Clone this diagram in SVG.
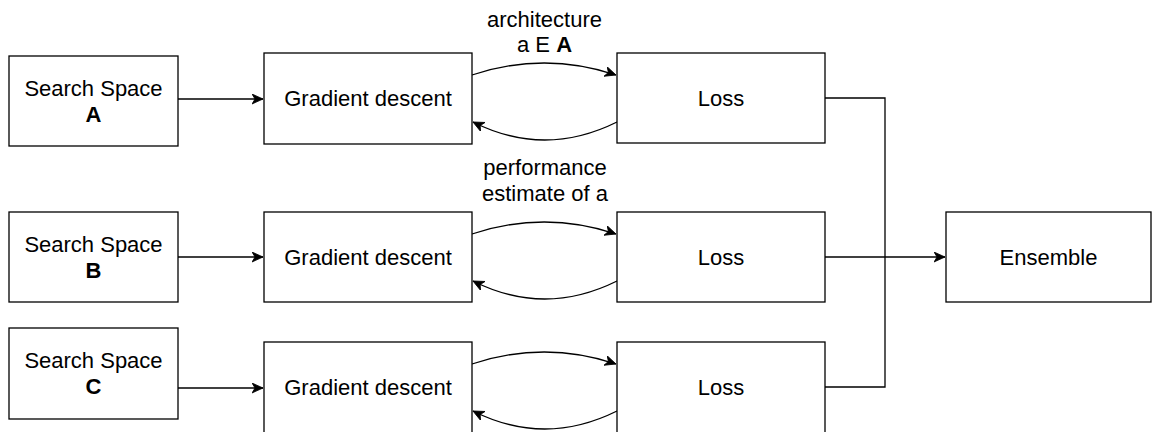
<svg xmlns="http://www.w3.org/2000/svg" width="1152" height="432" viewBox="0 0 1152 432">
<style>
.box{fill:#fff;stroke:#000;stroke-width:1.3}
.t{font-family:"Liberation Sans",Arial,sans-serif;font-size:22px;fill:#000;text-anchor:middle}
.b{font-weight:bold}
.edge{fill:none;stroke:#000;stroke-width:1.3}
</style>
<defs>
<marker id="arr" markerUnits="userSpaceOnUse" markerWidth="14" markerHeight="12" refX="11" refY="5" orient="auto" viewBox="0 0 14 12">
<path d="M0,0 L11,5 L0,10 L3,5 Z" fill="#000" stroke="#000" stroke-width="0.8"/>
</marker>
</defs>
<rect width="1152" height="432" fill="#fff"/>
<g id="connectors">
<path class="edge" d="M178,99 L263,99" marker-end="url(#arr)"/>
<path class="edge" d="M178,257 L263,257" marker-end="url(#arr)"/>
<path class="edge" d="M178,388 L263,388" marker-end="url(#arr)"/>
<path class="edge" d="M472,75 Q544.5,51 616,75" marker-end="url(#arr)"/>
<path class="edge" d="M617,122 Q544.5,158 473,122" marker-end="url(#arr)"/>
<path class="edge" d="M472,234 Q544.5,210 616,234" marker-end="url(#arr)"/>
<path class="edge" d="M617,281 Q544.5,317 473,281" marker-end="url(#arr)"/>
<path class="edge" d="M472,364 Q544.5,340 616,364" marker-end="url(#arr)"/>
<path class="edge" d="M617,411 Q544.5,447 473,411" marker-end="url(#arr)"/>
<path class="edge" d="M825,98 L885,98 L885,387 L825,387"/>
<path class="edge" d="M825,257 L945,257" marker-end="url(#arr)"/>
<text class="t" x="544.5" y="26.5">architecture</text>
<text class="t" x="544.5" y="52">a E <tspan class="b">A</tspan></text>
<text class="t" x="545" y="175">performance</text>
<text class="t" x="545" y="200.5">estimate of a</text>
</g>
<g id="ssA"><rect class="box" x="9" y="56" width="169" height="90"/><text class="t" x="93.5" y="95.5">Search Space</text><text class="t b" x="93.5" y="122">A</text></g>
<g id="ssB"><rect class="box" x="9" y="212" width="169" height="90"/><text class="t" x="93.5" y="251.5">Search Space</text><text class="t b" x="93.5" y="278">B</text></g>
<g id="ssC"><rect class="box" x="9" y="328" width="169" height="91"/><text class="t" x="93.5" y="367.5">Search Space</text><text class="t b" x="93.5" y="394">C</text></g>
<g id="gdA"><rect class="box" x="264" y="53" width="208" height="91"/><text class="t" x="368" y="106">Gradient descent</text></g>
<g id="gdB"><rect class="box" x="264" y="212" width="208" height="90"/><text class="t" x="368" y="264.5">Gradient descent</text></g>
<g id="gdC"><rect class="box" x="264" y="342" width="208" height="95"/><text class="t" x="368" y="394.5">Gradient descent</text></g>
<g id="lossA"><rect class="box" x="617" y="53" width="208" height="90"/><text class="t" x="721" y="106">Loss</text></g>
<g id="lossB"><rect class="box" x="617" y="212" width="208" height="90"/><text class="t" x="721" y="264.5">Loss</text></g>
<g id="lossC"><rect class="box" x="617" y="342" width="208" height="95"/><text class="t" x="721" y="394.5">Loss</text></g>
<g id="ensemble"><rect class="box" x="946" y="212" width="205" height="90"/><text class="t" x="1048.5" y="264.5">Ensemble</text></g>
</svg>
